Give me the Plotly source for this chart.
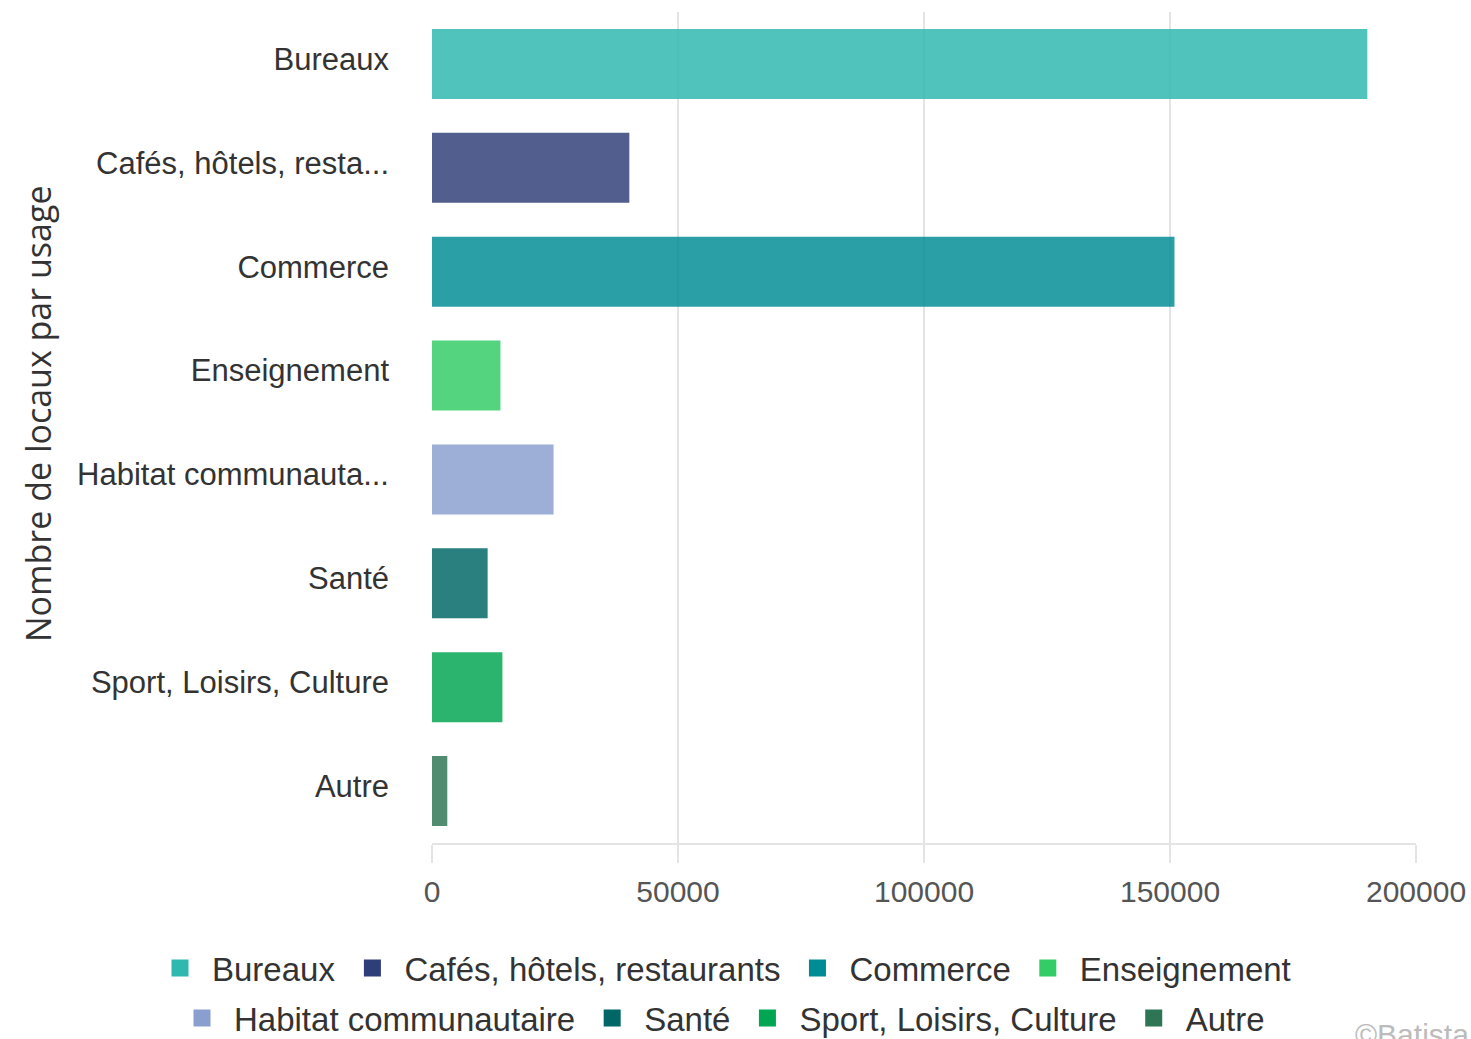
import plotly.graph_objects as go

categories = ["Bureaux", "Cafés, hôtels, restaurants", "Commerce", "Enseignement",
              "Habitat communautaire", "Santé", "Sport, Loisirs, Culture", "Autre"]
values = [189600, 39600, 150400, 13400, 24200, 10800, 13800, 2600]
tick_labels = ["Bureaux", "Cafés, hôtels, resta...", "Commerce", "Enseignement",
               "Habitat communauta...", "Santé", "Sport, Loisirs, Culture", "Autre"]
colors = ["#2EB8B0", "#2E3E78", "#008C95", "#33CC66",
          "#8A9FCF", "#006666", "#00A651", "#2E7555"]
x_ticks = [0, 50000, 100000, 150000, 200000]

fig = go.Figure()
for i, (cat, val, col) in enumerate(zip(categories, values, colors)):
    fig.add_trace(go.Bar(
        x=[val], y=[cat], orientation="h", name=cat,
        marker=dict(color=col, opacity=0.83, line=dict(width=5, color=col)),
        legend="legend" if i < 4 else "legend2",
        hoverinfo="x+y",
    ))

W, H = 1471, 1039
# target screen positions of plot area
SL, ST, SR, SB = 432, 12, 1416, 843
L, T, R, B = SL, ST, W - SR, H - SB
PW, PH = W - L - R, H - T - B


def px_x(px):
    return (px - SL) / PW


def px_y(py):
    return (SB - py) / PH


fig.update_layout(
    width=W, height=H,
    margin=dict(l=L, r=R, t=T, b=B, pad=0, autoexpand=False),
    paper_bgcolor="white", plot_bgcolor="white",
    barmode="overlay", bargap=0.374,
    font=dict(family="Liberation Sans, Arial, sans-serif", color="#333333"),
    xaxis=dict(
        range=[0, 200000], tickvals=x_ticks, ticktext=[str(v) for v in x_ticks],
        showgrid=True, gridcolor="#e4e4e4", gridwidth=1.5, zeroline=False,
        showline=True, linecolor="#e4e4e4", linewidth=2,
        ticks="outside", ticklen=18, tickcolor="#e4e4e4", tickwidth=1.5,
        tickfont=dict(size=30, color="#555555"),
        ticklabelstandoff=3,
    ),
    yaxis=dict(
        type="category", categoryorder="array", categoryarray=categories,
        autorange="reversed", tickvals=categories, ticktext=tick_labels,
        showgrid=False, zeroline=False, showline=False,
        ticks="", ticklabelstandoff=42, ticklabelshift=5,
        tickfont=dict(size=31, color="#333333"),
    ),
    legend=dict(
        orientation="h", xref="paper", yref="paper",
        x=px_x(148), xanchor="left", y=px_y(968), yanchor="middle",
        font=dict(size=33, color="#333333"), traceorder="normal",
        itemwidth=54, itemclick=False, itemdoubleclick=False,
    ),
    legend2=dict(
        orientation="h", xref="paper", yref="paper",
        x=px_x(170), xanchor="left", y=px_y(1018), yanchor="middle",
        font=dict(size=33, color="#333333"), traceorder="normal",
        itemwidth=54, itemclick=False, itemdoubleclick=False,
    ),
    annotations=[
        dict(text="Nombre de locaux par usage", textangle=-90,
             xref="paper", yref="paper",
             x=px_x(38), y=px_y(414),
             xanchor="center", yanchor="middle", showarrow=False,
             font=dict(family="Open Sans, sans-serif", size=34, color="#333333")),
        dict(text="©Batista", xref="paper", yref="paper",
             x=px_x(1353), y=px_y(1016),
             xanchor="left", yanchor="top", showarrow=False,
             font=dict(size=30, color="#bbbbbb")),
    ],
)

fig.write_html(
    "out.html",
    config={"displayModeBar": False},
    post_script="document.body.style.margin='0';document.body.style.overflow='hidden';",
)
